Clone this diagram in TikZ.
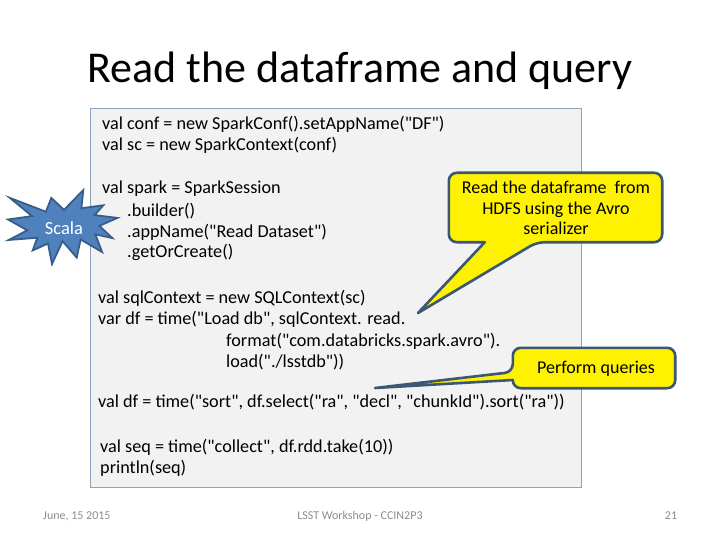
\documentclass[tikz,border=0pt]{standalone}
\usepackage{fontspec}
\setmainfont{Carlito}[Ligatures=TeXOff]
\usepackage{tikz}
\usetikzlibrary{calc}

\definecolor{codebg}{HTML}{F2F2F2}
\definecolor{codeline}{HTML}{8EA2BA}
\definecolor{burstfill}{HTML}{4F81BD}
\definecolor{burstline}{HTML}{385D8A}
\definecolor{calloutline}{HTML}{3B5774}
\definecolor{footgray}{HTML}{8C8C8C}

\begin{document}
\begin{tikzpicture}[x=1pt,y=-1pt,
		code/.style={anchor=base west,inner sep=0pt,font=\fontsize{18.2}{21}\selectfont},
		callout/.style={fill=yellow,draw=calloutline,line width=2.6pt,line join=round},
		calltext/.style={inner sep=0pt,align=center,font=\fontsize{18}{20.8}\selectfont},
		foot/.style={anchor=base,inner sep=0pt,text=footgray,font=\fontsize{12}{14}\selectfont}]
		\useasboundingbox (0,0) rectangle (720,540);

		\node[anchor=base,inner sep=0pt,font=\fontsize{44}{52}\selectfont] (title) at (360,83) {Read the dataframe and query};

		% code panel
		\draw[fill=codebg,draw=codeline,line width=0.8pt] (90,108) rectangle (581,487);

		\node[code] (conf)    at (102,130) {val conf = new SparkConf().setAppName("DF")};
		\node[code] (sc)      at (102,151) {val sc = new SparkContext(conf)};

		\node[code] (spark)   at (102,194) {val spark = SparkSession};
		\node[code] (builder) at (127,216) {.builder()};
		\node[code] (appname) at (127,237) {.appName("Read Dataset")};
		\node[code] (getcr)   at (127,258) {.getOrCreate()};

		\node[code] (sqlctx)  at (98,303)   {val sqlContext = new SQLContext(sc)};
		\node[code] (loaddb)  at (98,324.5) {var df = time("Load db", sqlContext. read.};
		\node[code] (format)  at (226,346)  {format("com.databricks.spark.avro").};
		\node[code] (load)    at (226,367.5){load("./lsstdb"))};

		\node[code] (sort)    at (98,407)  {val df = time("sort", df.select("ra", "decl", "chunkId").sort("ra"))};

		\node[code] (seq)     at (100,452) {val seq = time("collect", df.rdd.take(10))};
		\node[code] (prt)     at (100,473) {println(seq)};

		% scala burst
		\draw[fill=burstfill,draw=burstline,line width=1.8pt,line join=miter]
			(64,209.9) -- (83.3,190) -- (81.4,208.2) -- (103.3,205.3) -- (94.6,215.1)
			-- (117.4,217.9) -- (99.3,225.9) -- (112.4,238.1) -- (95.3,234.3) -- (102.1,252)
			-- (80.7,239.5) -- (76.7,257.6) -- (62.6,241.2) -- (52,264) -- (48,243.5)
			-- (32.7,250.4) -- (37.4,237.7) -- (8.7,240) -- (27.3,230.3) -- (8,219.5)
			-- (32,216.1) -- (9.9,197.9) -- (45.9,211.7) -- (51.3,197.9) -- cycle;
		\node[inner sep=0pt,text=white,font=\fontsize{18.5}{21}\selectfont] (scala) at (64,228) {Scala};

		% callouts
		\node[calltext,minimum width=213pt,minimum height=69pt] (avro) at (555.5,207.5) {};
		\coordinate (avrotip) at (418,313);
		\draw[callout] ([xshift=88pt]avro.south west) -- (avrotip) -- ([xshift=36pt]avro.south west)
			[rounded corners=8pt] -- (avro.south west) -- (avro.north west) -- (avro.north east) -- (avro.south east) -- cycle;
		\node[calltext] (avrotext) at (556,208) {Read the dataframe\ \ from\\HDFS using the Avro\\serializer};

		\node[calltext,minimum width=162pt,minimum height=40pt] (query) at (594,368) {};
		\coordinate (querytip) at (375,388);
		\draw[callout] ([yshift=-4pt]query.west) -- (querytip) -- ([yshift=-12pt]query.west)
			[rounded corners=8pt] -- (query.south west) -- (query.south east) -- (query.north east) -- (query.north west) -- cycle;
		\node[calltext] (querytext) at (596,369) {Perform queries};

		% footer
		\node[foot,anchor=base west] (date) at (43,519) {June, 15 2015};
		\node[foot] (event) at (360,519) {LSST Workshop - CCIN2P3};
		\node[foot] (page) at (671,519) {21};
\end{tikzpicture}
\end{document}
